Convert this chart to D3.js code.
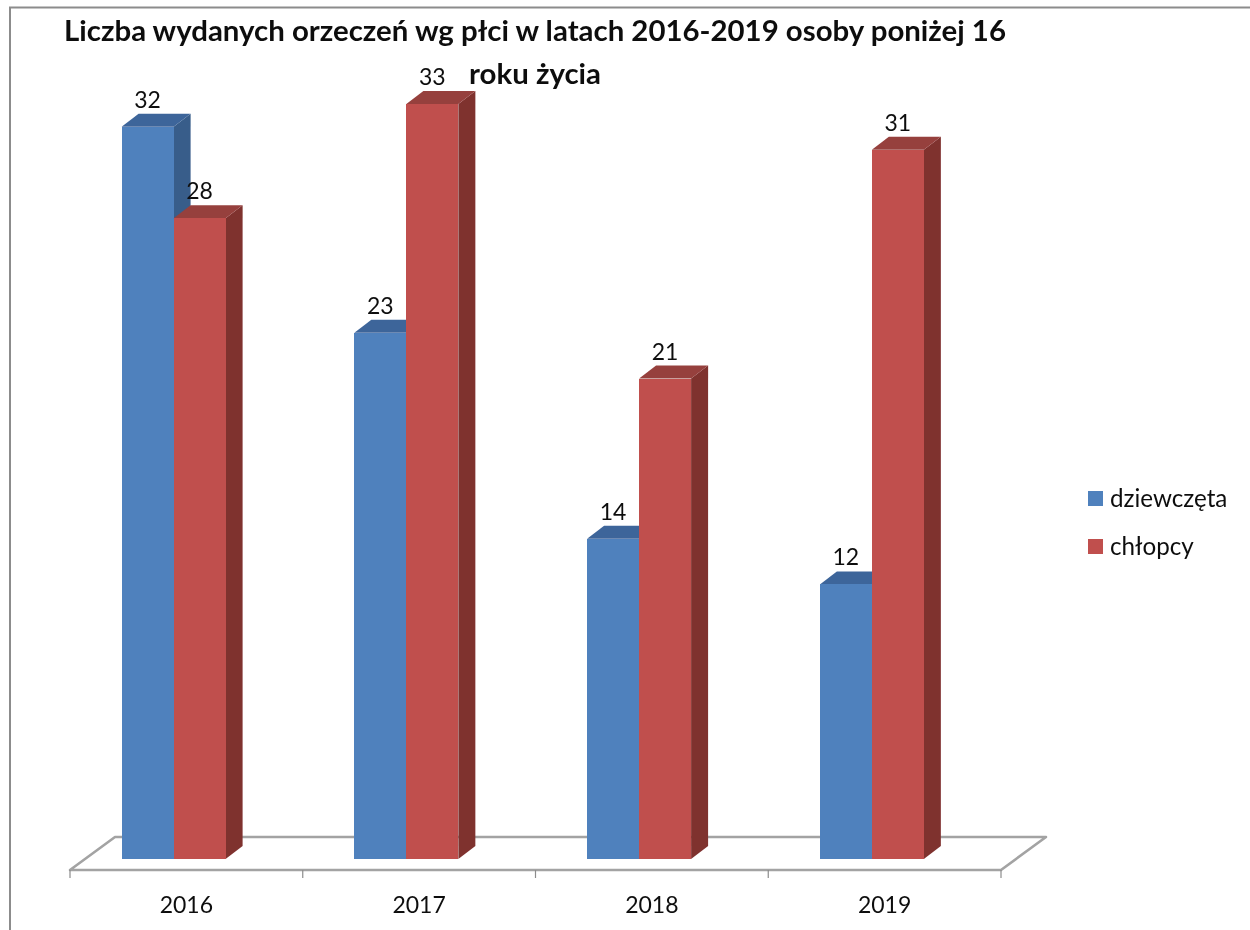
<!DOCTYPE html>
<html><head><meta charset="utf-8">
<script src="https://cdn.jsdelivr.net/npm/d3@7/dist/d3.min.js"></script>
<style>html,body{margin:0;padding:0;background:#fff}svg{display:block}text{font-family:Lato,sans-serif;fill:#111}</style>
</head><body><div id="c"></div>
<script>
const categories = ["2016","2017","2018","2019"];
const seriesNames = ["dziewczęta","chłopcy"];
const dziewczeta = [32,23,14,12];
const chlopcy = [28,33,21,31];
const titleLines = ["Liczba wydanych orzeczeń wg płci w latach 2016-2019 osoby poniżej 16","roku życia"];
const colors = ["#4F81BD","#C0504D"], topColors = ["#3E659A","#96403D"], sideColors = ["#385D8A","#7F302E"];

const W=1250,H=930,dx=17,dy=-13;
const svg=d3.select("#c").append("svg").attr("width",W).attr("height",H);
svg.append("defs").append("filter").attr("id","soft").append("feGaussianBlur").attr("stdDeviation",0.45);
const root=svg.append("g").attr("filter","url(#soft)");

const x=d3.scaleBand().domain(categories).range([70,1001]);
const xs=d3.scaleBand().domain(d3.range(2)).range([34,34+104]).paddingInner(0);
const y=d3.scaleLinear().domain([0,33]).range([859,859-33*22.88]);
const axisY=870, backY=837, floorDx=45;
const grey="#a3a3a3";

// frame
root.append("path").attr("d",`M10,930V7.5H1250`).attr("fill","none").attr("stroke","#8c8c8c").attr("stroke-width",2);

// floor
root.append("path").attr("d",`M${x.range()[0]},${axisY}L${x.range()[0]+floorDx},${backY}H${x.range()[1]+floorDx}L${x.range()[1]},${axisY}Z`)
  .attr("fill","#fff").attr("stroke",grey).attr("stroke-width",2.6).attr("stroke-linejoin","round");

// axis ticks and labels
const axis=d3.axisBottom(x).tickSize(0).tickPadding(0);
const ax=root.append("g").attr("transform",`translate(0,${axisY})`).call(axis);
ax.select(".domain").remove();
ax.selectAll("text").attr("y",43).attr("dy",0).attr("font-size",23).style("font-family","Lato,sans-serif").attr("fill","#111");
const tickPos=categories.map(c=>x(c)).concat(x.range()[1]);
root.selectAll("line.t").data(tickPos).join("line").attr("class","t")
  .attr("x1",d=>d).attr("x2",d=>d).attr("y1",axisY).attr("y2",axisY+8).attr("stroke","#8c8c8c").attr("stroke-width",1.2);

// bars
const data=categories.flatMap((c,i)=>[dziewczeta[i],chlopcy[i]].map((v,s)=>({c,s,v})));
const bars=root.selectAll("g.bar").data(data).join("g").attr("class","bar");
const L=d=>x(d.c)+xs(d.s)+17.6, R=d=>L(d)+xs.bandwidth();
bars.append("path").attr("fill",d=>sideColors[d.s])
  .attr("d",d=>`M${R(d)},${y(d.v)}l${dx},${dy}V${y(0)+dy}L${R(d)},${y(0)}Z`);
bars.append("path").attr("fill",d=>topColors[d.s])
  .attr("d",d=>`M${L(d)},${y(d.v)}l${dx},${dy}H${R(d)+dx}L${R(d)},${y(d.v)}Z`);
bars.append("rect").attr("fill",d=>colors[d.s]).attr("shape-rendering","crispEdges")
  .attr("x",L).attr("y",d=>y(d.v)).attr("width",xs.bandwidth()).attr("height",d=>y(0)-y(d.v));
bars.append("text").attr("x",d=>(L(d)+R(d))/2).attr("y",d=>y(d.v)-19).attr("text-anchor","middle").attr("font-size",23).text(d=>d.v);

// title
root.selectAll("text.title").data(titleLines).join("text").attr("class","title")
  .attr("x",535).attr("y",(d,i)=>41+i*43).attr("text-anchor","middle")
  .attr("font-size",29.4).attr("font-weight",700).text(d=>d);

// legend
const lg=root.selectAll("g.lg").data(seriesNames).join("g").attr("class","lg")
  .attr("transform",(d,i)=>`translate(1088,${491+i*48})`);
lg.append("rect").attr("width",15).attr("height",15).attr("fill",(d,i)=>colors[i]);
lg.append("text").attr("x",22).attr("y",15.5).attr("font-size",24.2).text(d=>d);
</script></body></html>
